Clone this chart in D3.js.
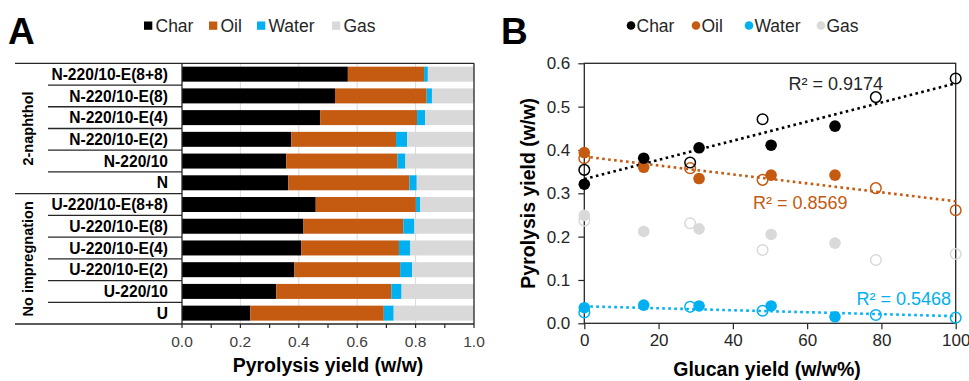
<!DOCTYPE html>
<html>
<head>
<meta charset="utf-8">
<script src="https://cdn.jsdelivr.net/npm/d3@7"></script>
<style>
    body { margin: 0; background: #fff; }
    svg text { font-family: "Liberation Sans", Arial, sans-serif; }
</style>
</head>
<body>
<svg id="chart" width="969" height="381"></svg>
<script>
// Painel A - dados
const categories = [
    "N-220/10-E(8+8)", "N-220/10-E(8)", "N-220/10-E(4)", "N-220/10-E(2)", "N-220/10", "N",
    "U-220/10-E(8+8)", "U-220/10-E(8)", "U-220/10-E(4)", "U-220/10-E(2)", "U-220/10", "U"
];
const groupNames = ["2-naphthol", "No impregnation"];
const groupSizes = [6, 6];

const charA  = [0.568, 0.524, 0.473, 0.374, 0.357, 0.364, 0.458, 0.416, 0.408, 0.385, 0.323, 0.234];
const oilA   = [0.261, 0.314, 0.332, 0.359, 0.381, 0.415, 0.343, 0.342, 0.335, 0.362, 0.394, 0.457];
const waterA = [0.013, 0.018, 0.028, 0.038, 0.027, 0.025, 0.015, 0.038, 0.039, 0.041, 0.035, 0.034];
const gasA   = [0.158, 0.144, 0.167, 0.229, 0.235, 0.196, 0.184, 0.204, 0.218, 0.212, 0.248, 0.275];

const seriesNames = ["Char", "Oil", "Water", "Gas"];
const seriesColors = ["#000000", "#C55A11", "#00B0F0", "#D9D9D9"];
const ticksA = [0, 0.1, 0.2, 0.3, 0.4, 0.5, 0.6, 0.7, 0.8, 0.9, 1.0];
const labelTicksA = [0, 0.2, 0.4, 0.6, 0.8, 1.0];

// Painel B - dados
const glucanFilled = [0, 16, 30.9, 50.3, 67.5];
const glucanHollow = [0, 28.5, 48, 78.5, 100];
const charFilled  = [0.321, 0.381, 0.405, 0.411, 0.455];
const charHollow  = [0.354, 0.371, 0.471, 0.522, 0.565];
const oilFilled   = [0.394, 0.360, 0.334, 0.342, 0.342];
const oilHollow   = [0.381, 0.358, 0.331, 0.312, 0.261];
const waterFilled = [0.036, 0.042, 0.040, 0.040, 0.015];
const waterHollow = [0.025, 0.038, 0.029, 0.019, 0.013];
const gasFilled   = [0.249, 0.212, 0.218, 0.205, 0.185];
const gasHollow   = [0.237, 0.231, 0.169, 0.146, 0.160];
const r2Labels = ["R² = 0.9174", "R² = 0.8569", "R² = 0.5468"];
const ticksBx = [0, 20, 40, 60, 80, 100];
const ticksBy = [0, 0.1, 0.2, 0.3, 0.4, 0.5, 0.6];

const svg = d3.select("#chart");
const lineColor = "#262626";

// ---------------- PAINEL A ----------------
const A = { left: 182, right: 474, top: 63.3, bottom: 324 };

const xA = d3.scaleLinear().domain([0, 1]).range([A.left, A.right]);
const yA = d3.scaleBand().domain(categories).range([A.top, A.bottom]).paddingInner(0.31).paddingOuter(0.155);
const rowH = (A.bottom - A.top) / categories.length;

const gA = svg.append("g");

// grelha vertical
gA.selectAll(".gridA")
    .data([0.2, 0.4, 0.6, 0.8])
    .enter()
    .append("line")
    .attr("x1", d => xA(d)).attr("x2", d => xA(d))
    .attr("y1", A.top).attr("y2", A.bottom)
    .attr("stroke", "#d9d9d9")
    .attr("stroke-width", 1);

// barras empilhadas
const tabela = categories.map((c, i) => ({ cat: c, Char: charA[i], Oil: oilA[i], Water: waterA[i], Gas: gasA[i] }));
const stack = d3.stack().keys(seriesNames)(tabela);

gA.selectAll(".serie")
    .data(stack)
    .enter()
    .append("g")
    .attr("fill", (d, i) => seriesColors[i])
    .selectAll("rect")
    .data(d => d)
    .enter()
    .append("rect")
    .attr("x", d => xA(d[0]))
    .attr("y", d => yA(d.data.cat))
    .attr("width", d => xA(d[1]) - xA(d[0]))
    .attr("height", yA.bandwidth());

// molduras e separadores
const bordas = [
    [15, A.top, A.right, A.top],
    [15, A.bottom, A.right, A.bottom],
    [A.left, A.top, A.left, A.bottom],
    [A.right, A.top, A.right, A.bottom]
];
categories.forEach((c, i) => {
    if (i === 0) return;
    const y = A.top + i * rowH;
    const x0 = (i === groupSizes[0]) ? 15 : 48;
    bordas.push([x0, y, A.left, y]);
});
gA.selectAll(".borda")
    .data(bordas)
    .enter()
    .append("line")
    .attr("x1", d => d[0]).attr("y1", d => d[1])
    .attr("x2", d => d[2]).attr("y2", d => d[3])
    .attr("stroke", lineColor)
    .attr("stroke-width", 1.3);

// ticks do eixo x
gA.selectAll(".tickA")
    .data(ticksA)
    .enter()
    .append("line")
    .attr("x1", d => xA(d)).attr("x2", d => xA(d))
    .attr("y1", A.bottom).attr("y2", A.bottom + 4)
    .attr("stroke", lineColor)
    .attr("stroke-width", 1.2);

gA.selectAll(".tickLabelA")
    .data(labelTicksA)
    .enter()
    .append("text")
    .attr("x", d => xA(d))
    .attr("y", 347)
    .attr("text-anchor", "middle")
    .attr("font-size", 15.5)
    .attr("fill", "#404040")
    .text(d => d.toFixed(1));

// nomes das categorias
gA.selectAll(".catLabel")
    .data(categories)
    .enter()
    .append("text")
    .attr("x", 168)
    .attr("y", d => yA(d) + yA.bandwidth() / 2)
    .attr("dy", "0.36em")
    .attr("text-anchor", "end")
    .attr("font-size", 15.6)
    .attr("font-weight", "bold")
    .text(d => d);

// nomes dos grupos (rodados)
let inicio = 0;
groupNames.forEach((g, i) => {
    const yc = A.top + (inicio + groupSizes[i] / 2) * rowH;
    gA.append("text")
        .attr("transform", `translate(28, ${yc}) rotate(-90)`)
        .attr("dy", "0.36em")
        .attr("text-anchor", "middle")
        .attr("font-size", 14.5)
        .attr("font-weight", "bold")
        .text(g);
    inicio += groupSizes[i];
});

// titulo eixo x
gA.append("text")
    .attr("x", 328).attr("y", 372)
    .attr("text-anchor", "middle")
    .attr("font-size", 19.5)
    .attr("font-weight", "bold")
    .text("Pyrolysis yield (w/w)");

// legenda A
const legA = [144, 209, 257, 332];
seriesNames.forEach((s, i) => {
    gA.append("rect")
        .attr("x", legA[i]).attr("y", 21.5)
        .attr("width", 8.3).attr("height", 8.3)
        .attr("fill", seriesColors[i]);
    gA.append("text")
        .attr("x", legA[i] + 11.5).attr("y", 32)
        .attr("font-size", 17.5)
        .attr("fill", "#262626")
        .text(s);
});

gA.append("text")
    .attr("x", 8).attr("y", 44)
    .attr("font-size", 37)
    .attr("font-weight", "bold")
    .text("A");

// ---------------- PAINEL B ----------------
const B = { left: 584.3, right: 955.7, top: 63.3, bottom: 323.3 };
const xB = d3.scaleLinear().domain([0, 100]).range([B.left, B.right]);
const yB = d3.scaleLinear().domain([0, 0.6]).range([B.bottom, B.top]);

const gB = svg.append("g");

// moldura
gB.append("rect")
    .attr("x", B.left).attr("y", B.top)
    .attr("width", B.right - B.left).attr("height", B.bottom - B.top)
    .attr("fill", "none")
    .attr("stroke", lineColor)
    .attr("stroke-width", 1.3);

gB.append("g")
    .attr("transform", `translate(0, ${B.bottom})`)
    .call(d3.axisBottom(xB).tickValues(ticksBx).tickSize(6).tickPadding(5))
    .call(g => g.select(".domain").remove())
    .call(g => g.selectAll("line").attr("stroke", lineColor).attr("stroke-width", 1.2))
    .call(g => g.selectAll("text").attr("font-size", 17).attr("fill", "#262626")
        .attr("font-family", '"Liberation Sans", Arial, sans-serif'));

gB.append("g")
    .attr("transform", `translate(${B.left}, 0)`)
    .call(d3.axisLeft(yB).tickValues(ticksBy).tickSize(6).tickPadding(8).tickFormat(d3.format(".1f")))
    .call(g => g.select(".domain").remove())
    .call(g => g.selectAll("line").attr("stroke", lineColor).attr("stroke-width", 1.2))
    .call(g => g.selectAll("text").attr("font-size", 17).attr("fill", "#262626")
        .attr("font-family", '"Liberation Sans", Arial, sans-serif'));

// series do painel B
const seriesB = [
    { name: "Gas",   color: seriesColors[3], filled: gasFilled,   hollow: gasHollow,   trend: false },
    { name: "Water", color: seriesColors[2], filled: waterFilled, hollow: waterHollow, trend: true },
    { name: "Oil",   color: seriesColors[1], filled: oilFilled,   hollow: oilHollow,   trend: true },
    { name: "Char",  color: seriesColors[0], filled: charFilled,  hollow: charHollow,  trend: true }
];

// regressao linear (minimos quadrados) sobre todos os pontos
function regressao(xs, ys) {
    const mx = d3.mean(xs), my = d3.mean(ys);
    let num = 0, den = 0;
    xs.forEach((x, i) => { num += (x - mx) * (ys[i] - my); den += (x - mx) * (x - mx); });
    const m = num / den;
    return { m: m, b: my - m * mx };
}

seriesB.forEach(s => {
    if (!s.trend) return;
    const xs = glucanFilled.concat(glucanHollow);
    const ys = s.filled.concat(s.hollow);
    const r = regressao(xs, ys);
    gB.append("line")
        .attr("x1", xB(0)).attr("y1", yB(r.b))
        .attr("x2", xB(100)).attr("y2", yB(r.b + r.m * 100))
        .attr("stroke", s.color)
        .attr("stroke-width", 2.6)
        .attr("stroke-dasharray", "2.6,3.4");
});

seriesB.forEach(s => {
    gB.selectAll(null)
        .data(s.hollow)
        .enter()
        .append("circle")
        .attr("cx", (d, i) => xB(glucanHollow[i]))
        .attr("cy", d => yB(d))
        .attr("r", 5.3)
        .attr("fill", "none")
        .attr("stroke", s.color)
        .attr("stroke-width", 1.5);
    gB.selectAll(null)
        .data(s.filled)
        .enter()
        .append("circle")
        .attr("cx", (d, i) => xB(glucanFilled[i]))
        .attr("cy", d => yB(d))
        .attr("r", 5.8)
        .attr("fill", s.color);
});

// R² labels
const r2Pos = [[55, 0.538], [45.4, 0.264], [73.3, 0.042]];
const r2Cores = [seriesColors[0], seriesColors[1], seriesColors[2]];
r2Labels.forEach((t, i) => {
    gB.append("text")
        .attr("x", xB(r2Pos[i][0])).attr("y", yB(r2Pos[i][1]))
        .attr("font-size", 18)
        .attr("fill", i === 0 ? "#262626" : r2Cores[i])
        .text(t);
});

// titulos dos eixos
gB.append("text")
    .attr("x", 767).attr("y", 375.5)
    .attr("text-anchor", "middle")
    .attr("font-size", 19.5)
    .attr("font-weight", "bold")
    .text("Glucan yield (w/w%)");

gB.append("text")
    .attr("transform", `translate(535, ${(B.top + B.bottom) / 2}) rotate(-90)`)
    .attr("text-anchor", "middle")
    .attr("font-size", 19.5)
    .attr("font-weight", "bold")
    .text("Pyrolysis yield (w/w)");

// legenda B
const legB = [631, 696, 749, 821];
seriesNames.forEach((s, i) => {
    gB.append("circle")
        .attr("cx", legB[i]).attr("cy", 25.5)
        .attr("r", 4.3)
        .attr("fill", seriesColors[i]);
    gB.append("text")
        .attr("x", legB[i] + 5.5).attr("y", 32)
        .attr("font-size", 17.5)
        .attr("fill", "#262626")
        .text(s);
});

gB.append("text")
    .attr("x", 501).attr("y", 44)
    .attr("font-size", 37)
    .attr("font-weight", "bold")
    .text("B");
</script>
</body>
</html>
